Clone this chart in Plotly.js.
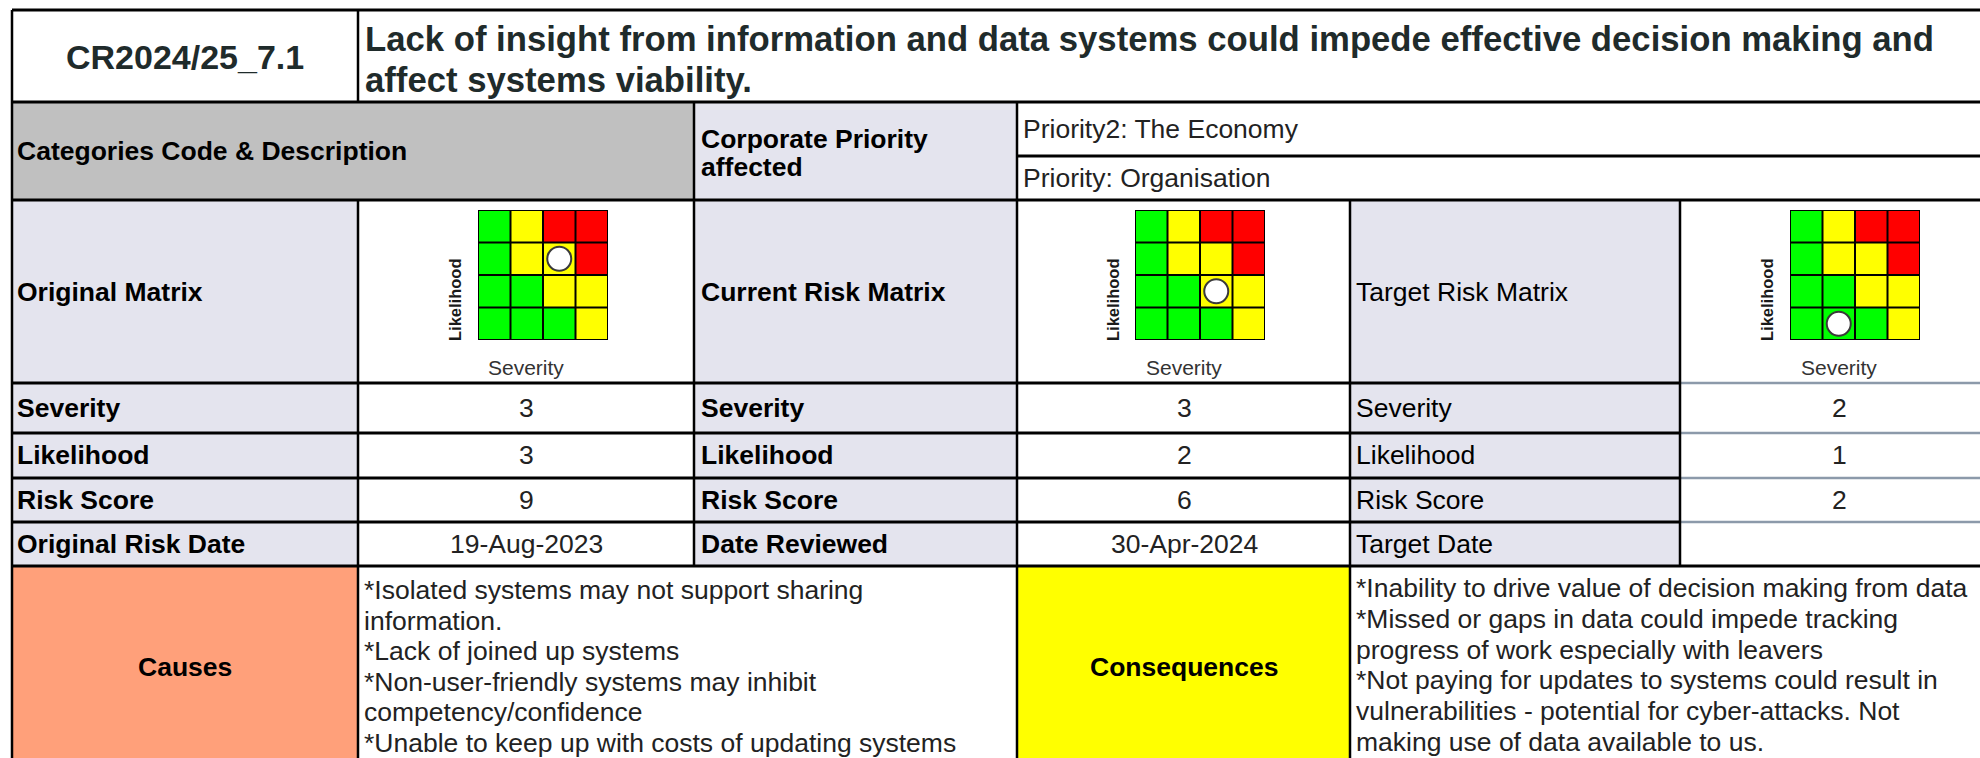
<!DOCTYPE html>
<html><head><meta charset="utf-8">
<script src="https://cdn.plot.ly/plotly-3.0.1.min.js"></script>
<style>html,body{margin:0;padding:0;background:#fff;}#chart{width:1980px;height:758px;}</style>
</head><body><div id="chart"></div>
<script>
// ---------------- data ----------------
const riskId = 'CR2024/25_7.1';
const riskTitleLines = ['Lack of insight from information and data systems could impede effective decision making and', 'affect systems viability.'];
const categoryHeader = 'Categories Code & Description';
const priorityHeaderLines = ['Corporate Priority', 'affected'];
const priorities = ['Priority2: The Economy', 'Priority: Organisation'];
const matrixNames = ['Original Matrix', 'Current Risk Matrix', 'Target Risk Matrix'];
const severity = [3, 3, 2];
const likelihood = [3, 2, 1];
const riskScore = [9, 6, 2];
const rowLabels = ['Severity', 'Likelihood', 'Risk Score'];
const dateLabels = ['Original Risk Date', 'Date Reviewed', 'Target Date'];
const dates = ['19-Aug-2023', '30-Apr-2024', ''];
const severityLevels = [1, 2, 3, 4];
const likelihoodLevels = [1, 2, 3, 4];
// rows = likelihood 1..4, columns = severity 1..4 ; 0 green, 1 yellow, 2 red
const zoneGrid = [[0, 0, 0, 1], [0, 0, 1, 1], [0, 1, 1, 2], [0, 1, 2, 2]];
const zoneColors = ['#00FF00', '#FFFF00', '#FF0000'];
const axisNames = ['Severity', 'Likelihood'];
const causesTitle = 'Causes';
const causes = [
  '*Isolated systems may not support sharing',
  'information.',
  '*Lack of joined up systems',
  '*Non-user-friendly systems may inhibit',
  'competency/confidence',
  '*Unable to keep up with costs of updating systems'
];
const consequencesTitle = 'Consequences';
const consequences = [
  '*Inability to drive value of decision making from data',
  '*Missed or gaps in data could impede tracking',
  'progress of work especially with leavers',
  '*Not paying for updates to systems could result in',
  'vulnerabilities - potential for cyber-attacks. Not',
  'making use of data available to us.'
];

// ---------------- geometry / style ----------------
const W = 1980, H = 758;
const px = x => x / W;
const py = y => 1 - y / H;
const colX = [12, 358, 694, 1017, 1350, 1680, 1998];
const rowY = [10, 102, 200, 383, 433, 478, 522, 566, 820];
const prioSplit = 156;
const FONT = 'Liberation Sans, Arial, Helvetica, sans-serif';
const NARROW = 'Liberation Sans Narrow, Arial Narrow, Liberation Sans, sans-serif';
const LAV = '#E4E4EE', GREY = '#C0C0C0', SALMON = '#FFA07A', YEL = '#FFFF00';
const BODY = 26.5;
const matX = [478, 1135, 1790], matY = 210, matS = 130;
const likX = [455, 1113, 1767], likY = 300;
const valueCenters = [526, 1184, 1839];
const labelLeft = [16, 700, 1355];

const shapes = [];
function rect(x0, y0, x1, y1, fill) {
  shapes.push({type: 'rect', xref: 'paper', yref: 'paper', x0: px(x0), x1: px(x1), y0: py(y1), y1: py(y0),
    fillcolor: fill, line: {width: 0}, layer: 'below'});
}
function hline(y, x0, x1, color, w) {
  shapes.push({type: 'line', xref: 'paper', yref: 'paper', x0: px(x0), x1: px(x1), y0: py(y), y1: py(y),
    line: {color: color || '#000', width: w || 3}});
}
function vline(x, y0, y1, color, w) {
  shapes.push({type: 'line', xref: 'paper', yref: 'paper', x0: px(x), x1: px(x), y0: py(y0), y1: py(y1),
    line: {color: color || '#000', width: w || 2.5}});
}

// backgrounds
rect(colX[0], rowY[1], colX[2], rowY[2], GREY);
rect(colX[2], rowY[1], colX[3], rowY[2], LAV);
for (let r = 2; r < 7; r++) {
  rect(colX[0], rowY[r], colX[1], rowY[r + 1], LAV);
  rect(colX[2], rowY[r], colX[3], rowY[r + 1], LAV);
  rect(colX[4], rowY[r], colX[5], rowY[r + 1], LAV);
}
rect(colX[0], rowY[7], colX[1], rowY[8], SALMON);
rect(colX[3], rowY[7], colX[4], rowY[8], YEL);

// horizontal borders
[rowY[0], rowY[1], rowY[2]].forEach(y => hline(y, colX[0], W));
hline(prioSplit, colX[3], W);
[rowY[3], rowY[4], rowY[5], rowY[6]].forEach(y => { hline(y, colX[0], colX[5]); hline(y, colX[5], W, '#8C9AAA', 2.5); });
hline(rowY[7], colX[0], W);
// vertical borders
vline(colX[0], rowY[0], H);
vline(colX[1], rowY[0], rowY[1]);
vline(colX[1], rowY[2], H);
vline(colX[2], rowY[1], rowY[7]);
vline(colX[3], rowY[1], H);
vline(colX[4], rowY[2], H);
vline(colX[5], rowY[2], rowY[7]);

// ---------------- annotations ----------------
const annotations = [];
function ann(text, x, y, o) {
  o = o || {};
  annotations.push({text: text, xref: 'paper', yref: 'paper', x: px(x), y: py(y), showarrow: false,
    xanchor: o.xa || 'left', yanchor: o.ya || 'middle', align: o.xa === 'center' ? 'center' : 'left',
    borderpad: 0, textangle: o.angle || 0,
    font: {family: o.family || FONT, size: o.size || BODY, color: o.color || '#000', weight: o.bold ? 'bold' : 'normal'}});
}
const B = t => '<b>' + t + '</b>';

ann(B(riskId), 185, 57, {xa: 'center', size: 34, color: '#1f2b2b'});
riskTitleLines.forEach((t, i) => ann(B(t), 364, 39 + i * 41, {size: 34.7, color: '#1f2b2b'}));
ann(B(categoryHeader), labelLeft[0], 151);
priorityHeaderLines.forEach((t, i) => ann(B(t), labelLeft[1], 139 + i * 28));
ann(priorities[0], 1022, 129, {color: '#222'});
ann(priorities[1], 1022, 178, {color: '#222'});

const rowCenters = [292, 408, 455.5, 500, 544];
for (let m = 0; m < 3; m++) {
  const lab = t => m < 2 ? B(t) : t;
  ann(lab(matrixNames[m]), labelLeft[m], rowCenters[0]);
  ann(B(axisNames[1]), likX[m], likY, {xa: 'center', angle: -90, size: 16.5, color: '#1a1a1a', family: NARROW});
  ann(axisNames[0], valueCenters[m], 367, {xa: 'center', size: 21, color: '#333'});
  const vals = [severity[m], likelihood[m], riskScore[m]];
  rowLabels.forEach((r, k) => {
    ann(lab(r), labelLeft[m], rowCenters[k + 1]);
    ann(String(vals[k]), valueCenters[m], rowCenters[k + 1], {xa: 'center', color: '#222'});
  });
  ann(lab(dateLabels[m]), labelLeft[m], rowCenters[4]);
  if (dates[m]) ann(dates[m], valueCenters[m], rowCenters[4], {xa: 'center', color: '#222'});
}
ann(B(causesTitle), 185, 667, {xa: 'center'});
causes.forEach((t, i) => ann(t, 363, 590 + i * 30.5, {color: '#222'}));
ann(B(consequencesTitle), 1184, 667, {xa: 'center'});
consequences.forEach((t, i) => ann(t, 1355, 588 + i * 30.8, {color: '#222'}));

// ---------------- matrices ----------------
const traces = [];
const layout = {
  width: W, height: H, margin: {l: 0, r: 0, t: 0, b: 0},
  paper_bgcolor: '#fff', plot_bgcolor: 'rgba(0,0,0,0)', showlegend: false,
  shapes: shapes, annotations: annotations
};
const cs = [[0, zoneColors[0]], [1 / 3, zoneColors[0]], [1 / 3, zoneColors[1]], [2 / 3, zoneColors[1]], [2 / 3, zoneColors[2]], [1, zoneColors[2]]];
for (let m = 0; m < 3; m++) {
  const s = m === 0 ? '' : String(m + 1);
  traces.push({type: 'heatmap', x: severityLevels, y: likelihoodLevels, z: zoneGrid, colorscale: cs,
    zmin: 0, zmax: 2, showscale: false, hoverinfo: 'skip', xaxis: 'x' + s, yaxis: 'y' + s});
  traces.push({type: 'scatter', mode: 'markers', x: [severity[m]], y: [likelihood[m]], xaxis: 'x' + s, yaxis: 'y' + s,
    hoverinfo: 'skip', cliponaxis: false,
    marker: {size: 24, color: '#ffffff', line: {color: '#3a3a3a', width: 2}}});
  layout['xaxis' + s] = {domain: [px(matX[m]), px(matX[m] + matS)], range: [0.5, 4.5], visible: false, fixedrange: true, anchor: 'y' + s};
  layout['yaxis' + s] = {domain: [py(matY + matS), py(matY)], range: [0.5, 4.5], visible: false, fixedrange: true, anchor: 'x' + s};
  for (let k = 0; k <= severityLevels.length; k++) {
    const c = 0.5 + k;
    shapes.push({type: 'line', xref: 'x' + s, yref: 'y' + s, x0: c, x1: c, y0: 0.5, y1: 4.5, line: {color: '#000', width: 2}});
    shapes.push({type: 'line', xref: 'x' + s, yref: 'y' + s, x0: 0.5, x1: 4.5, y0: c, y1: c, line: {color: '#000', width: 2}});
  }
}
Plotly.newPlot('chart', traces, layout, {staticPlot: true, displayModeBar: false});
</script>
</body></html>
